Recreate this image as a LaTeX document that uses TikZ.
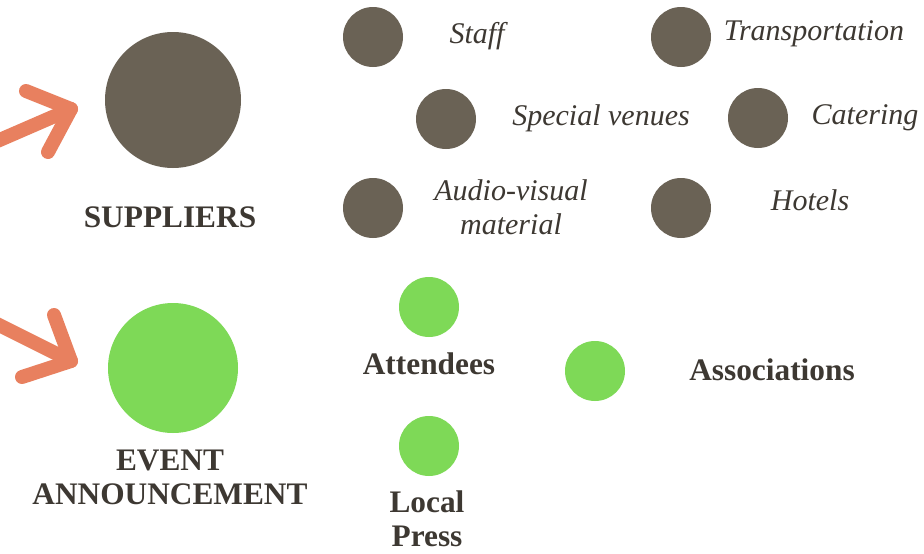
\documentclass[tikz,border=0pt]{standalone}
\usepackage{fontspec}
\setmainfont{Liberation Serif}
\definecolor{supbrown}{HTML}{6A6255}
\definecolor{evgreen}{HTML}{7ED957}
\definecolor{arroworange}{HTML}{E8805F}
\definecolor{txtdark}{HTML}{3D3832}
\tikzset{
  bigdot/.style={circle, inner sep=0pt, minimum size=102pt},
  smalldot/.style={circle, inner sep=0pt, minimum size=45pt},
  brownfill/.style={fill=supbrown},
  greenfill/.style={fill=evgreen},
  boldlabel/.style={text=txtdark, align=center, inner sep=0pt, font=\fontsize{23.5}{25.5}\selectfont\bfseries},
  itallabel/.style={text=txtdark, align=center, inner sep=0pt, font=\fontsize{22.5}{25.5}\selectfont\itshape},
  bigarrow/.style={draw=arroworange, line width=10.5pt, line cap=round, line join=round}
}
\begin{document}
\begin{tikzpicture}[x=0.75pt, y=-0.75pt]
\clip (0,0) rectangle (924,553);
\fill[white] (0,0) rectangle (924,553);
% arrows
\coordinate (a1s) at (-5,142);
\coordinate (a1t) at (71,109);
\coordinate (a1u) at (26,91);
\coordinate (a1l) at (48,152);
\coordinate (a2s) at (-5,323);
\coordinate (a2t) at (71,361);
\coordinate (a2u) at (54,315);
\coordinate (a2l) at (22,377);
\draw[bigarrow] (a1s) -- (a1t);
\draw[bigarrow] (a1u) -- (a1t) -- (a1l);
\draw[bigarrow] (a2s) -- (a2t);
\draw[bigarrow] (a2u) -- (a2t) -- (a2l);
% suppliers
\node[bigdot, brownfill] (sup) at (173,100) {};
\node[boldlabel] (suplbl) at (170,217) {SUPPLIERS};
\node[smalldot, brownfill] (staff) at (373,37) {};
\node[itallabel] (stafflbl) at (477,36) {Staff};
\node[smalldot, brownfill] (trans) at (681,37) {};
\node[itallabel] (translbl) at (814,34) {Transportation};
\node[smalldot, brownfill] (venue) at (446,119) {};
\node[itallabel] (venuelbl) at (601,118) {Special venues};
\node[smalldot, brownfill] (cater) at (758,118) {};
\node[itallabel] (caterlbl) at (865,118) {Catering};
\node[smalldot, brownfill] (av) at (373,208) {};
\node[itallabel] (avlbl) at (511,207) {Audio-visual\\material};
\node[smalldot, brownfill] (hotel) at (681,208) {};
\node[itallabel] (hotellbl) at (810,200) {Hotels};
% event announcement
\node[bigdot, greenfill, minimum size=97.5pt] (ev) at (173,368) {};
\node[boldlabel] (evlbl) at (170,477) {EVENT\\ANNOUNCEMENT};
\node[smalldot, greenfill] (att) at (429,307) {};
\node[boldlabel] (attlbl) at (429,364) {Attendees};
\node[smalldot, greenfill] (assoc) at (595,371) {};
\node[boldlabel] (assoclbl) at (772,370) {Associations};
\node[smalldot, greenfill] (press) at (429,446) {};
\node[boldlabel] (presslbl) at (427,519) {Local\\Press};
\end{tikzpicture}
\end{document}
